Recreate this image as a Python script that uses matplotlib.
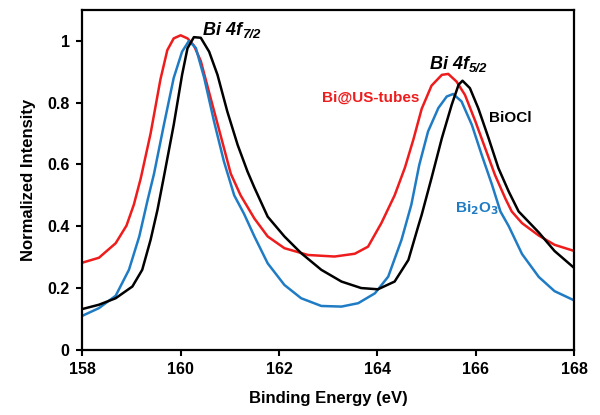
import matplotlib
matplotlib.use("Agg")
import matplotlib.pyplot as plt

plt.rcParams["font.family"] = ["Liberation Sans", "DejaVu Sans"]
plt.rcParams["font.weight"] = "bold"

# Bi@US-tubes (red)
red_x = [158.0, 158.34, 158.68, 158.9, 159.05, 159.19, 159.39, 159.59, 159.73, 159.86,
         160.0, 160.14, 160.27, 160.41, 160.61, 160.82, 161.02, 161.22, 161.5, 161.77,
         162.11, 162.59, 163.13, 163.54, 163.81, 164.08, 164.35, 164.56, 164.73, 164.9,
         165.1, 165.31, 165.44, 165.61, 165.78, 165.99, 166.19, 166.39, 166.6, 166.73,
         166.94, 167.28, 167.6, 168.0]
red_y = [0.282, 0.298, 0.345, 0.402, 0.47, 0.555, 0.70, 0.875, 0.97, 1.008,
         1.018, 1.008, 0.985, 0.935, 0.815, 0.69, 0.57, 0.50, 0.425, 0.367,
         0.329, 0.307, 0.302, 0.311, 0.334, 0.41, 0.50, 0.59, 0.68, 0.78,
         0.855, 0.89, 0.893, 0.868, 0.825, 0.74, 0.653, 0.566, 0.49, 0.448,
         0.41, 0.37, 0.34, 0.32]

# Bi2O3 (blue)
blue_x = [158.0, 158.34, 158.68, 158.95, 159.16, 159.33, 159.46, 159.66, 159.86, 160.03,
          160.17, 160.31, 160.48, 160.68, 160.88, 161.09, 161.29, 161.5, 161.77, 162.11,
          162.45, 162.86, 163.27, 163.61, 163.95, 164.22, 164.49, 164.69, 164.85, 165.03,
          165.24, 165.41, 165.54, 165.71, 165.92, 166.12, 166.33, 166.5, 166.67, 166.94,
          167.28, 167.6, 168.0]
blue_y = [0.11, 0.135, 0.175, 0.259, 0.367, 0.485, 0.57, 0.728, 0.88, 0.965,
          1.0, 0.977, 0.88, 0.739, 0.61, 0.50, 0.44, 0.367, 0.28, 0.21,
          0.167, 0.142, 0.14, 0.151, 0.183, 0.237, 0.356, 0.47, 0.598, 0.707,
          0.783, 0.82, 0.828, 0.804, 0.728, 0.631, 0.534, 0.448, 0.40, 0.31,
          0.236, 0.19, 0.16]

# BiOCl (black)
black_x = [158.0, 158.34, 158.68, 159.02, 159.22, 159.39, 159.53, 159.66, 159.86, 160.03,
           160.14, 160.27, 160.41, 160.58, 160.75, 160.95, 161.16, 161.36, 161.5, 161.77,
           162.11, 162.45, 162.86, 163.27, 163.67, 164.01, 164.35, 164.63, 164.83, 164.9,
           165.1, 165.31, 165.51, 165.65, 165.73, 165.88, 166.05, 166.26, 166.46, 166.67,
           166.87, 167.28, 167.6, 168.0]
black_y = [0.132, 0.146, 0.167, 0.205, 0.259, 0.356, 0.453, 0.56, 0.728, 0.89,
           0.976, 1.012, 1.01, 0.965, 0.89, 0.771, 0.663, 0.577, 0.525, 0.431,
           0.367, 0.313, 0.259, 0.221, 0.20, 0.196, 0.221, 0.291, 0.40, 0.437,
           0.556, 0.685, 0.793, 0.858, 0.871, 0.847, 0.782, 0.685, 0.588, 0.512,
           0.448, 0.38, 0.32, 0.265]

x_ticks = [158, 160, 162, 164, 166, 168]
y_ticks = [0, 0.2, 0.4, 0.6, 0.8, 1.0]

fig = plt.figure(figsize=(6.0, 4.15), dpi=100)
ax = fig.add_axes([0.137, 0.157, 0.82, 0.819])

line_kw = dict(lw=1.8, solid_joinstyle="round", solid_capstyle="round")
ax.plot(red_x, red_y, color="#ee1c1c", **line_kw)
ax.plot(blue_x, blue_y, color="#1f7cc4", **line_kw)
ax.plot(black_x, black_y, color="black", **line_kw)

ax.set_xlim(158, 168)
ax.set_ylim(0, 1.1)
ax.set_xticks(x_ticks)
ax.set_yticks(y_ticks)
ax.set_yticklabels([f"{v:g}" for v in y_ticks])
ax.tick_params(labelsize=11.5, width=1.5, length=4, pad=5)
for s in ax.spines.values():
    s.set_linewidth(1.6)

ax.set_xlabel("Binding Energy (eV)", fontsize=12, fontweight="bold", labelpad=10)
ax.set_ylabel("Normalized Intensity", fontsize=12, fontweight="bold", labelpad=8)

# peak labels, subscript hung off the end of the main text
t1 = ax.text(160.45, 1.035, "Bi 4f", fontsize=13, fontweight="bold", style="italic",
             va="center", ha="left")
ax.annotate("7/2", xy=(1.0, 0.22), xycoords=t1, fontsize=9.5, fontweight="bold",
            style="italic", va="center", ha="left")
t2 = ax.text(165.06, 0.925, "Bi 4f", fontsize=13, fontweight="bold", style="italic",
             va="center", ha="left")
ax.annotate("5/2", xy=(1.0, 0.22), xycoords=t2, fontsize=9.5, fontweight="bold",
            style="italic", va="center", ha="left")

# sample labels
ax.text(164.86, 0.815, "Bi@US-tubes", color="#ee1c1c", fontsize=11, fontweight="bold",
        ha="right", va="center")
ax.text(166.27, 0.75, "BiOCl", color="black", fontsize=11, fontweight="bold",
        ha="left", va="center")
ax.text(165.57, 0.46, "Bi$_2$O$_3$", color="#1f7cc4", fontsize=11, fontweight="bold",
        ha="left", va="center")

fig.savefig("out.png", dpi=100)
plt.close(fig)
